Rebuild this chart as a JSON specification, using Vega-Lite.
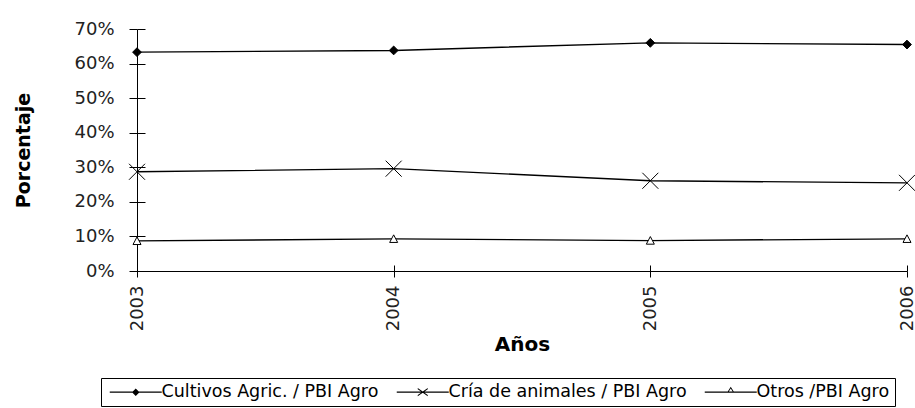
{
  "$schema": "https://vega.github.io/schema/vega-lite/v6.json",
  "width": 770,
  "height": 242,
  "autosize": {"type": "none"},
  "padding": {"left": 137, "top": 29, "right": 8, "bottom": 137},
  "background": "white",
  "config": {
    "view": {"stroke": null},
    "font": "DejaVu Sans",
    "axis": {"grid": false, "domainColor": "black", "tickColor": "black", "labelColor": "#222", "titleColor": "black", "labelFont": "DejaVu Sans", "titleFont": "DejaVu Sans"},
    "legend": {
      "orient": "none",
      "legendX": -36,
      "legendY": 349,
      "direction": "horizontal",
      "strokeColor": "black",
      "fillColor": "white",
      "padding": 5,
      "symbolSize": 100,
      "symbolStrokeWidth": 0,
      "symbolFillColor": "black",
      "symbolOpacity": 1,
      "symbolOffset": 21,
      "labelOffset": 17,
      "columnPadding": 14,
      "labelFont": "DejaVu Sans",
      "labelFontSize": 17.5,
      "labelColor": "black",
      "labelLimit": 400
    }
  },
  "data": {
    "values": [
      {"year": "2003", "series": "Cultivos Agric. / PBI Agro", "value": 0.633},
      {"year": "2004", "series": "Cultivos Agric. / PBI Agro", "value": 0.638},
      {"year": "2005", "series": "Cultivos Agric. / PBI Agro", "value": 0.660},
      {"year": "2006", "series": "Cultivos Agric. / PBI Agro", "value": 0.655},
      {"year": "2003", "series": "Cría de animales / PBI Agro", "value": 0.287},
      {"year": "2004", "series": "Cría de animales / PBI Agro", "value": 0.296},
      {"year": "2005", "series": "Cría de animales / PBI Agro", "value": 0.261},
      {"year": "2006", "series": "Cría de animales / PBI Agro", "value": 0.255},
      {"year": "2003", "series": "Otros /PBI Agro", "value": 0.087},
      {"year": "2004", "series": "Otros /PBI Agro", "value": 0.093},
      {"year": "2005", "series": "Otros /PBI Agro", "value": 0.088},
      {"year": "2006", "series": "Otros /PBI Agro", "value": 0.093}
    ]
  },
  "resolve": {
    "axis": {"x": "independent", "y": "independent"},
    "scale": {"shape": "independent", "fill": "independent"}
  },
  "layer": [
    {
      "mark": {"type": "line", "color": "black", "strokeWidth": 1.4},
      "encoding": {
        "x": {
          "field": "year", "type": "ordinal",
          "scale": {"type": "point", "padding": 0},
          "axis": {"labelAngle": -90, "tickSize": 6, "labelPadding": 8, "labelFontSize": 18, "title": "Años", "titleFontSize": 20, "titleFontWeight": "bold", "titlePadding": 4}
        },
        "y": {
          "field": "value", "type": "quantitative",
          "scale": {"domain": [0, 0.7]},
          "axis": {"values": [0, 0.1, 0.2, 0.3, 0.4, 0.5, 0.6, 0.7], "format": ".0%", "tickSize": 8, "labelPadding": 15, "labelFontSize": 18, "title": "Porcentaje", "titleFontSize": 19, "titleFontWeight": "bold", "titlePadding": 40}
        },
        "detail": {"field": "series"}
      }
    },
    {
      "mark": {"type": "point", "filled": true, "fill": "black", "strokeWidth": 0, "opacity": 0, "size": 100},
      "encoding": {
        "x": {"field": "year", "type": "ordinal", "scale": {"type": "point", "padding": 0}, "axis": null},
        "y": {"field": "value", "type": "quantitative", "scale": {"domain": [0, 0.7]}, "axis": null},
        "shape": {
          "field": "series", "type": "nominal",
          "scale": {
            "domain": ["Cultivos Agric. / PBI Agro", "Cría de animales / PBI Agro", "Otros /PBI Agro"],
            "range": [
              "M-5.2,-0.12H5.2V0.12H-5.2ZM0,-0.75L0.75,0L0,0.75L-0.75,0Z",
              "M-5.2,-0.12H5.2V0.12H-5.2ZM-1,-0.82L1,0.58L1,0.82L-1,-0.58ZM-1,0.58L1,-0.82L1,-0.58L-1,0.82Z",
              "M-5.2,-0.12H5.2V0.12H-5.2ZM0,-1.1L0.75,0.1L-0.75,0.1ZM0,-0.72L-0.42,-0.1L0.42,-0.1Z"
            ]
          },
          "legend": {"title": null}
        }
      }
    },
    {
      "mark": {"type": "point", "filled": true, "stroke": "black", "strokeWidth": 1, "opacity": 1, "size": 256},
      "encoding": {
        "x": {
          "field": "year", "type": "ordinal",
          "scale": {"type": "point", "padding": 0},
          "axis": {"orient": "bottom", "offset": -6, "tickSize": 6, "labels": false, "domain": false, "title": null}
        },
        "y": {
          "field": "value", "type": "quantitative",
          "scale": {"domain": [0, 0.7]},
          "axis": {"orient": "left", "offset": -8, "tickSize": 8, "labels": false, "domain": false, "title": null, "values": [0, 0.1, 0.2, 0.3, 0.4, 0.5, 0.6, 0.7]}
        },
        "shape": {
          "field": "series", "type": "nominal",
          "scale": {
            "domain": ["Cultivos Agric. / PBI Agro", "Cría de animales / PBI Agro", "Otros /PBI Agro"],
            "range": ["M0,-0.55L0.55,0L0,0.55L-0.55,0Z", "M-1,-1L1,1M-1,1L1,-1", "M-0.5,0.45L0,-0.5L0.5,0.45Z"]
          },
          "legend": null
        },
        "fill": {
          "field": "series", "type": "nominal",
          "scale": {
            "domain": ["Cultivos Agric. / PBI Agro", "Cría de animales / PBI Agro", "Otros /PBI Agro"],
            "range": ["black", "white", "white"]
          },
          "legend": null
        }
      }
    }
  ]
}
